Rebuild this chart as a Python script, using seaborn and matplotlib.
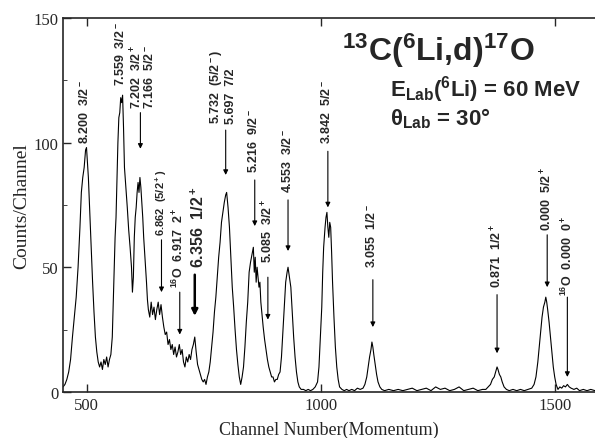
import numpy as np
import pandas as pd
import matplotlib
matplotlib.use("Agg")
import matplotlib.pyplot as plt
import seaborn as sns

# spectrum (channel, counts/channel)
channel = [450, 454, 458, 462, 466, 470, 474, 478, 482, 486, 489, 492, 495, 498, 500, 502, 504, 507, 510, 513,
           516, 519, 522, 525, 528, 531, 534, 537, 540, 543, 546, 549, 552, 555, 557, 559, 561, 563, 565, 567,
           569, 571, 573, 575, 577, 579, 581, 584, 587, 590, 593, 596, 598, 600, 602, 604, 606, 608, 610, 612,
           614, 616, 618, 620, 622, 624, 626, 628, 630, 632, 635, 638, 641, 644, 647, 650, 653, 656, 659, 662,
           665, 668, 671, 674, 677, 680, 683, 686, 689, 692, 695, 698, 701, 704, 707, 710, 713, 716, 719, 722,
           725, 728, 731, 734, 737, 740, 743, 746, 749, 752, 755, 758, 761, 764, 767, 770, 773, 776, 779, 782,
           785, 788, 791, 794, 797, 799, 802, 805, 808, 811, 814, 817, 820, 823, 826, 829, 832, 835, 838, 841,
           844, 847, 850, 853, 856, 858, 860, 862, 864, 866, 868, 870, 872, 874, 877, 880, 883, 886, 889, 892,
           895, 898, 901, 904, 907, 910, 913, 916, 919, 922, 925, 928, 930, 933, 936, 939, 942, 945, 948, 951,
           954, 958, 963, 968, 973, 978, 983, 988, 993, 996, 999, 1002, 1004, 1006, 1009, 1011, 1013, 1015, 1017, 1019,
           1021, 1023, 1025, 1028, 1031, 1034, 1037, 1040, 1045, 1050, 1055, 1060, 1066, 1072, 1078, 1084, 1090, 1094, 1098, 1101,
           1104, 1107, 1109, 1111, 1113, 1116, 1119, 1122, 1126, 1130, 1136, 1145, 1155, 1165, 1175, 1185, 1195, 1205, 1215, 1225,
           1235, 1245, 1255, 1265, 1275, 1285, 1295, 1305, 1315, 1325, 1335, 1345, 1352, 1357, 1362, 1366, 1370, 1373, 1376, 1378,
           1381, 1384, 1387, 1391, 1396, 1402, 1410, 1418, 1426, 1434, 1442, 1450, 1455, 1459, 1463, 1466, 1469, 1472, 1475, 1478,
           1480, 1482, 1484, 1487, 1490, 1493, 1496, 1499, 1502, 1506, 1510, 1514, 1518, 1522, 1526, 1530, 1534, 1540, 1546, 1552,
           1560, 1568, 1576, 1585]
counts = [2, 3, 5, 8, 13, 22, 30, 38, 50, 66, 80, 86, 90, 97, 98, 92, 86, 72, 58, 44,
          32, 22, 16, 12, 10, 12, 9, 13, 11, 14, 10, 13, 15, 22, 35, 48, 62, 70, 85, 100,
          110, 112, 118, 116, 119, 106, 90, 82, 74, 65, 58, 50, 40, 46, 62, 70, 74, 80, 84, 80,
          86, 82, 76, 70, 62, 56, 50, 44, 37, 33, 30, 36, 31, 34, 29, 33, 36, 31, 35, 30,
          26, 23, 24, 19, 21, 17, 19, 15, 18, 14, 16, 19, 15, 17, 12, 10, 14, 12, 15, 13,
          17, 19, 22, 16, 11, 9, 7, 5, 4, 5, 3, 6, 8, 12, 18, 24, 32, 38, 46, 54,
          60, 68, 72, 76, 79, 80, 74, 66, 54, 42, 34, 25, 17, 11, 6, 3, 6, 10, 18, 28,
          36, 48, 52, 55, 58, 48, 54, 44, 50, 46, 42, 44, 36, 32, 26, 21, 17, 13, 10, 8,
          6, 6, 4, 5, 5, 7, 8, 14, 24, 34, 44, 48, 50, 46, 42, 32, 22, 14, 8, 4,
          2, 1, 1, 0.5, 1, 0.5, 1, 2, 4, 10, 22, 34, 48, 58, 66, 70, 72, 66, 62, 68,
          66, 56, 44, 30, 18, 10, 5, 2, 1, 0.5, 1, 0.5, 1, 0.5, 1.5, 1, 1.5, 3, 6, 10,
          14, 17, 20, 18, 15, 11, 7, 4, 2, 1, 0.5, 1, 0.5, 1, 0.5, 1, 1.5, 0.5, 1, 1.5,
          0.5, 2, 1, 1.5, 0.5, 1, 2, 0.5, 1, 1.5, 0.5, 1, 1, 2, 3, 5, 6, 8, 10, 9,
          7, 6, 4, 2, 1, 0.5, 1, 0.5, 1, 0.5, 1, 1.5, 3, 6, 12, 18, 24, 30, 34, 36,
          38, 36, 33, 28, 22, 16, 10, 6, 3, 1, 2, 1.5, 2.5, 2, 3, 2, 1.5, 1, 1.5, 0.5,
          1, 0.5, 1, 0.5]

# level labels: text, x (channel), bottom of text (counts), font size
labels = ["8.200  3/2$^-$", "7.559  3/2$^-$", "7.202  3/2$^+$", "7.166  5/2$^-$",
          "6.862  (5/2$^+$)", "$^{16}$O  6.917  2$^+$", "6.356  1/2$^+$",
          "5.732  (5/2$^-$)", "5.697  7/2", "5.216  9/2$^-$", "5.085  3/2$^+$",
          "4.553  3/2$^-$", "3.842  5/2$^-$", "3.055  1/2$^-$", "0.871  1/2$^+$",
          "0.000  5/2$^+$", "$^{16}$O  0.000  0$^+$"]
label_x = [498, 575, 607, 637, 660, 697, 738, 778, 808, 859, 887, 930, 1015, 1111, 1376, 1483, 1526]
label_y = [100, 123, 114, 114, 63, 42, 50, 108, 108, 88, 52, 80, 100, 50, 42, 65, 39]
label_size = [9, 9, 9, 9, 8, 9, 11.5, 9, 9, 9, 9, 9, 9, 9, 9, 9, 9]

# arrows: x, start, tip
arrow_x = [615, 660, 699, 731, 797, 859, 887, 930, 1015, 1111, 1376, 1483, 1526]
arrow_top = [112, 61, 40, 47, 105, 85, 46, 77, 96.5, 45, 39, 63, 38]
arrow_tip = [97.5, 40, 23, 30.5, 87, 66.5, 29, 56.5, 74, 26, 15.5, 42, 6]
arrow_lw = [0.8, 0.8, 0.8, 1.8, 0.8, 0.8, 0.8, 0.8, 0.8, 0.8, 0.8, 0.8, 0.8]

df = pd.DataFrame({"channel": channel, "counts": counts})

sns.set_style("ticks")
plt.rcParams["font.family"] = ["Liberation Sans", "DejaVu Sans"]
plt.rcParams["mathtext.default"] = "regular"

fig = plt.figure(figsize=(5.95, 4.39), dpi=100)
ax = fig.add_axes([0.106, 0.105, 0.894, 0.852])

sns.lineplot(data=df, x="channel", y="counts", color="black", lw=0.8, ax=ax, sort=False)

ax.set_xlim(450, 1585)
ax.set_ylim(0, 150)
ax.set_xticks([500, 1000, 1500])
ax.set_yticks([0, 50, 100, 150])
ax.set_yticks([25, 75, 125], minor=True)
ax.tick_params(direction="in", length=6, width=1, top=True, right=False)
ax.tick_params(which="minor", direction="in", length=3, left=True)
for s in ["left", "bottom", "top"]:
    ax.spines[s].set_linewidth(1.2)
ax.spines["right"].set_visible(False)

serif = "Liberation Serif"
for t in ax.get_xticklabels() + ax.get_yticklabels():
    t.set_fontfamily(serif)
    t.set_fontsize(12)
ax.set_xlabel("Channel Number(Momentum)", fontfamily=serif, fontsize=13, labelpad=6)
ax.set_ylabel("Counts/Channel", fontfamily=serif, fontsize=14, labelpad=2)

for txt, x, y, fs in zip(labels, label_x, label_y, label_size):
    ax.text(x, y, txt, rotation=90, ha="center", va="bottom", fontsize=fs,
            fontweight="bold", fontstretch="condensed")

for x, y0, y1, lw in zip(arrow_x, arrow_top, arrow_tip, arrow_lw):
    ax.annotate("", xy=(x, y1), xytext=(x, y0),
                arrowprops=dict(arrowstyle="-|>", color="black", lw=lw,
                                mutation_scale=7 if lw < 1 else 9, shrinkA=0, shrinkB=0))

ax.text(0.525, 0.915, "$^{13}$C($^{6}$Li,d)$^{17}$O", transform=ax.transAxes,
        fontsize=23, fontweight="bold", va="center", ha="left")
ax.text(0.615, 0.81, "E$_{Lab}$($^{6}$Li) = 60 MeV", transform=ax.transAxes,
        fontsize=16, fontweight="bold", va="center", ha="left")
ax.text(0.615, 0.733, "θ$_{Lab}$ = 30°", transform=ax.transAxes,
        fontsize=16, fontweight="bold", va="center", ha="left")

fig.savefig("out.png", dpi=100)
